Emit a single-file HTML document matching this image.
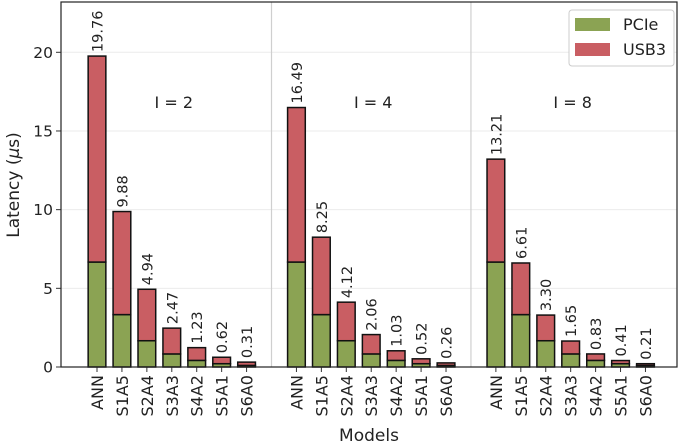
<!DOCTYPE html>
<html><head><meta charset="utf-8"><style>
html,body{margin:0;padding:0;background:#fff}
svg{display:block;font-family:"DejaVu Sans","Liberation Sans",sans-serif}
</style></head><body>
<svg id="chart" width="685" height="444" viewBox="0 0 685 444"></svg>
<script>
const groups = ["I = 2", "I = 4", "I = 8"];
const categories = ["ANN","S1A5","S2A4","S3A3","S4A2","S5A1","S6A0"];
const pcieValues = [6.67,3.33,1.67,0.83,0.42,0.21,0.10];
const totalValues = [
  [19.76,9.88,4.94,2.47,1.23,0.62,0.31],
  [16.49,8.25,4.12,2.06,1.03,0.52,0.26],
  [13.21,6.61,3.30,1.65,0.83,0.41,0.21]
];
const yTicks = [0,5,10,15,20];

const NS="http://www.w3.org/2000/svg";
const svg=document.getElementById('chart');
const L=61,R=677,T=2,B=367;
const slot=24.93, x0=97;
function xs(s){return x0+s*slot;}
function ys(v){return B-v*(B-52.3)/20;}
function el(tag,attrs,parent){const e=document.createElementNS(NS,tag);for(const k in attrs)e.setAttribute(k,attrs[k]);(parent||svg).appendChild(e);return e;}

yTicks.forEach(t=>{
  if(t>0){const g=el('line',{x1:L,x2:R,y1:ys(t),y2:ys(t),stroke:'#ebebeb','stroke-width':1});
  
  }
  const tk=el('line',{x1:L-5,x2:L,y1:ys(t),y2:ys(t),stroke:'#333','stroke-width':1});
  
  
  const tl=el('text',{x:L-8,y:ys(t)+5.5,'text-anchor':'end','font-size':15.5,fill:'#222'});
  tl.textContent=t;
  
  
});
for(let g=1;g<groups.length;g++){
  const s=el('line',{x1:xs(g*8-1),x2:xs(g*8-1),y1:T,y2:B,stroke:'#cfcfcf','stroke-width':1.2});
  
  
}
const bw=17.7;
groups.forEach((gname,g)=>{
  categories.forEach((c,i)=>{
    const cx=xs(g*8+i);
    const tot=totalValues[g][i], p=pcieValues[i];
    const r1=el('rect',{x:cx-bw/2,y:ys(p),width:bw,height:ys(0)-ys(p),fill:'#8ba353',stroke:'#111','stroke-width':1.5});
    
    
    const r2=el('rect',{x:cx-bw/2,y:ys(tot),width:bw,height:ys(p)-ys(tot),fill:'#c95e63',stroke:'#111','stroke-width':1.5});
    
    
    const vl=el('text',{x:0,y:0,'font-size':14.5,fill:'#222',transform:`translate(${cx+5.5},${ys(tot)-4}) rotate(-90)`});
    vl.textContent=tot.toFixed(2);
    
    
    const tk=el('line',{x1:cx,x2:cx,y1:B,y2:B+5,stroke:'#333','stroke-width':1});
    
    
    const xl=el('text',{x:0,y:0,'font-size':16,fill:'#222','text-anchor':'end',transform:`translate(${cx+6},${B+8}) rotate(-90)`});
    xl.textContent=c;
    
    
  });
  const gl=el('text',{x:xs(g*8+3)+2,y:108,'font-size':16,fill:'#222','text-anchor':'middle'});
  gl.textContent=gname;
  
  
});
const fr=el('rect',{x:L,y:T,width:R-L,height:B-T,fill:'none',stroke:'#222','stroke-width':1.2});


const yt=el('text',{x:0,y:0,'font-size':17,fill:'#222','text-anchor':'middle',transform:'translate(19,185) rotate(-90)'});
yt.innerHTML='Latency (<tspan font-style="italic">μ</tspan>s)';


const xt=el('text',{x:369,y:441,'font-size':17,fill:'#222','text-anchor':'middle'});
xt.textContent='Models';


const lg=el('g',{});


el('rect',{x:569,y:10,width:105,height:56,rx:3,fill:'#fff',stroke:'#ccc','stroke-width':1},lg);
[['PCIe','#8ba353',18],['USB3','#c95e63',43]].forEach(([n,c,y])=>{
  const sw=el('rect',{x:575,y:y,width:35,height:13,fill:c},lg);
  
  
  const t=el('text',{x:623,y:y+12,'font-size':16,fill:'#222'},lg);
  t.textContent=n;
  
  
});
</script>
</body></html>
